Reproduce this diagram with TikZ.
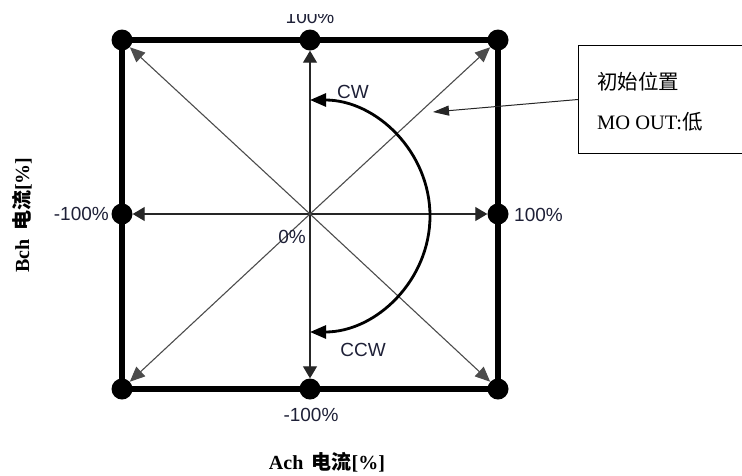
\documentclass[tikz,border=0pt]{standalone}
\usepackage{fontspec}
\setmainfont{Liberation Serif}
\setsansfont{Liberation Sans}
\newfontfamily\cjk{Noto Sans CJK SC}
\usetikzlibrary{arrows.meta}
\definecolor{lbl}{RGB}{30,32,55}
\begin{document}
\begin{tikzpicture}[x=1pt,y=-1pt,
  dot/.style={circle,fill=black,inner sep=0pt,minimum size=21pt},
  frame/.style={line width=6.5pt},
  axisline/.style={draw=black!85,line width=1.2pt,-{Triangle[length=12pt,width=14pt]}},
  diagline/.style={draw=black!70,line width=1.1pt,-{Triangle[length=15pt,width=13pt]}},
  rotarc/.style={line width=2.8pt,{Triangle[length=16pt,width=13pt]}-{Triangle[length=16pt,width=13pt]}},
  pct/.style={font=\sffamily\fontsize{19}{21}\selectfont,text=lbl,inner sep=0pt},
  boxtxt/.style={font=\fontsize{20.5}{22}\selectfont,inner sep=0pt,anchor=west},
  axlabel/.style={font=\bfseries\fontsize{20}{22}\selectfont,inner sep=0pt}
]
\useasboundingbox (0,0) rectangle (742,475);
% frame
\draw[frame] (122,40) rectangle (498,389);
% dots
\node[dot] (tl) at (122,40) {};
\node[dot] (tm) at (310,40) {};
\node[dot] (tr) at (498,40) {};
\node[dot] (ml) at (122,214) {};
\node[dot] (mr) at (498,214) {};
\node[dot] (bl) at (122,389) {};
\node[dot] (bm) at (310,389) {};
\node[dot] (br) at (498,389) {};
\coordinate (o) at (310,214);
% arrows from centre
\draw[axisline] (o) -- (tm);
\draw[axisline] (o) -- (bm);
\draw[axisline] (o) -- (ml);
\draw[axisline] (o) -- (mr);
\draw[diagline] (o) -- (tl);
\draw[diagline] (o) -- (tr);
\draw[diagline] (o) -- (bl);
\draw[diagline] (o) -- (br);
% rotation arc
\coordinate (arcs) at (310,100);
\draw[rotarc] (arcs) arc[start angle=-90,end angle=90,x radius=120,y radius=116];
% labels
\begin{scope}
\clip (240,14) rectangle (380,40);
\node[pct,anchor=base] (ltop) at (310,23) {100\%};
\end{scope}
\node[pct,anchor=east] (lleft) at (109,214) {-100\%};
\node[pct,anchor=west] (lright) at (514,215) {100\%};
\node[pct] (lbot) at (311,415) {-100\%};
\node[pct] (lzero) at (292,237) {0\%};
\node[pct] (lcw) at (353,92) {CW};
\node[pct] (lccw) at (363,350) {CCW};
% callout
\node[draw,line width=1pt,anchor=north west,minimum width=180pt,minimum height=108pt,inner sep=0pt] (callout) at (578,45) {};
\node[boxtxt] (t1) at (597,82) {\cjk 初始位置};
\node[boxtxt] (t2) at (597,122) {MO OUT:{\cjk 低}};
\coordinate (ctip) at (433,112);
\draw[line width=1pt,black!85,-{Triangle[length=16pt,width=10pt]}] (callout.west) -- (ctip);
% axis labels
\node[axlabel] (xlab) at (327,462) {Ach\, {\cjk 电流}[\%]};
\node[axlabel,rotate=90] (ylab) at (22,215) {Bch\, {\cjk 电流}[\%]};
\end{tikzpicture}
\end{document}
